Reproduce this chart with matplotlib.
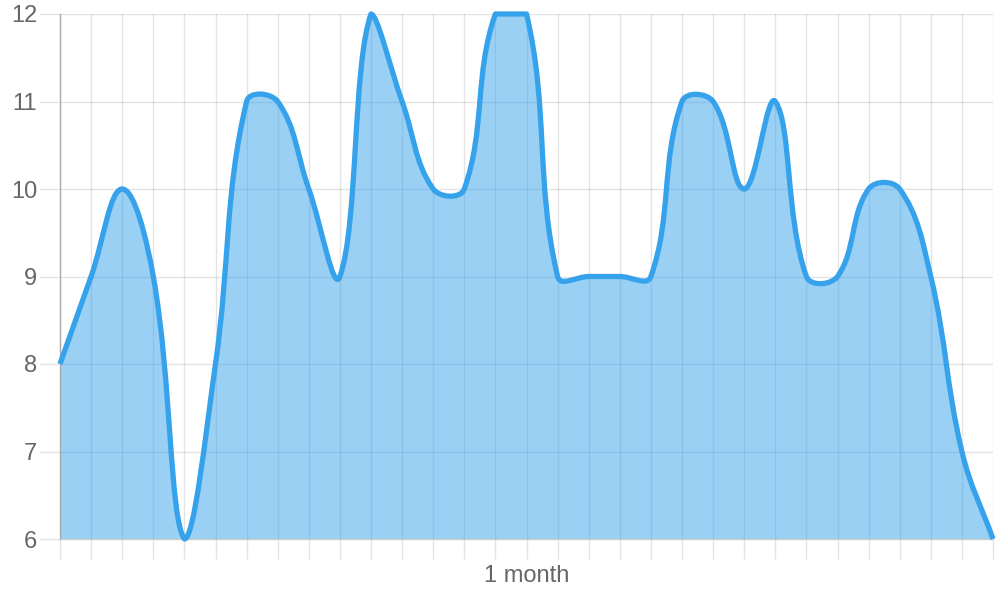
import matplotlib
matplotlib.use('Agg')
import matplotlib.pyplot as plt
import numpy as np
from matplotlib.path import Path
from matplotlib.patches import PathPatch

plt.rcParams['font.family'] = ['Liberation Sans', 'DejaVu Sans']

# data (one point per gridline)
days = list(range(31))
values = [8, 9, 10, 9, 6, 8, 11, 11, 10, 9, 12, 11, 10, 10, 12, 12,
          9, 9, 9, 9, 11, 11, 10, 11, 9, 9, 10, 10, 9, 7, 6]
tick_labels = [''] * 31
tick_labels[15] = '1 month'
y_ticks = [6, 7, 8, 9, 10, 11, 12]

line_color = '#36A2EB'
grey = '#666666'
tension = 0.4

fig = plt.figure(figsize=(10, 6), dpi=100)
ax = fig.add_axes([0.060, 1 - 539 / 600, 0.933, 525 / 600])
ax.set_xlim(days[0], days[-1])
ax.set_ylim(y_ticks[0], y_ticks[-1])

# chart.js style bezier spline, worked out in pixel space
pts = ax.transData.transform(np.column_stack([days, values]))
x0, y0 = ax.transData.transform((days[0], y_ticks[0]))
x1, y1 = ax.transData.transform((days[-1], y_ticks[-1]))
n = len(pts)
cp_prev = np.zeros_like(pts)
cp_next = np.zeros_like(pts)
for i in range(n):
    prev = pts[max(i - 1, 0)]
    cur = pts[i]
    nxt = pts[min(i + 1, n - 1)]
    d01 = np.hypot(*(cur - prev))
    d12 = np.hypot(*(nxt - cur))
    tot = d01 + d12
    s01 = d01 / tot if tot else 0
    s12 = d12 / tot if tot else 0
    cp_prev[i] = cur - tension * s01 * (nxt - prev)
    cp_next[i] = cur + tension * s12 * (nxt - prev)
# cap control points inside the chart area
for cp in (cp_prev, cp_next):
    cp[:, 0] = np.clip(cp[:, 0], x0, x1)
    cp[:, 1] = np.clip(cp[:, 1], y0, y1)

verts = [pts[0]]
codes = [Path.MOVETO]
for i in range(1, n):
    verts += [cp_next[i - 1], cp_prev[i], pts[i]]
    codes += [Path.CURVE4] * 3
inv = ax.transData.inverted()
verts = inv.transform(np.array(verts))

line_path = Path(verts, codes)
fill_verts = np.vstack([verts, [[days[-1], y_ticks[0]], [days[0], y_ticks[0]], verts[0]]])
fill_codes = codes + [Path.LINETO, Path.LINETO, Path.CLOSEPOLY]
fill_path = Path(fill_verts, fill_codes)

ax.add_patch(PathPatch(fill_path, facecolor=line_color, alpha=0.5,
                       edgecolor='none', zorder=2))
ax.add_patch(PathPatch(line_path, facecolor='none', edgecolor=line_color,
                       linewidth=3.8, zorder=3, clip_on=False,
                       capstyle='butt', joinstyle='round'))

# grid and axes
ax.set_xticks(days)
ax.set_xticklabels(tick_labels)
ax.set_yticks(y_ticks)
ax.tick_params(axis='both', color='#e2e2e2', width=1.0,
               length=14.4, labelcolor=grey, labelsize=17)
ax.tick_params(axis='y', pad=2)
ax.tick_params(axis='x', pad=4)
ax.grid(True, color='black', alpha=0.11, linewidth=1.0)
ax.set_axisbelow(True)
for side in ['top', 'right']:
    ax.spines[side].set_visible(False)
ax.spines['left'].set_color('#aaaaaa')
ax.spines['left'].set_linewidth(1.0)
ax.spines['bottom'].set_color('#cccccc')
ax.spines['bottom'].set_linewidth(1.0)

plt.savefig('out.png', dpi=100, facecolor='white')
